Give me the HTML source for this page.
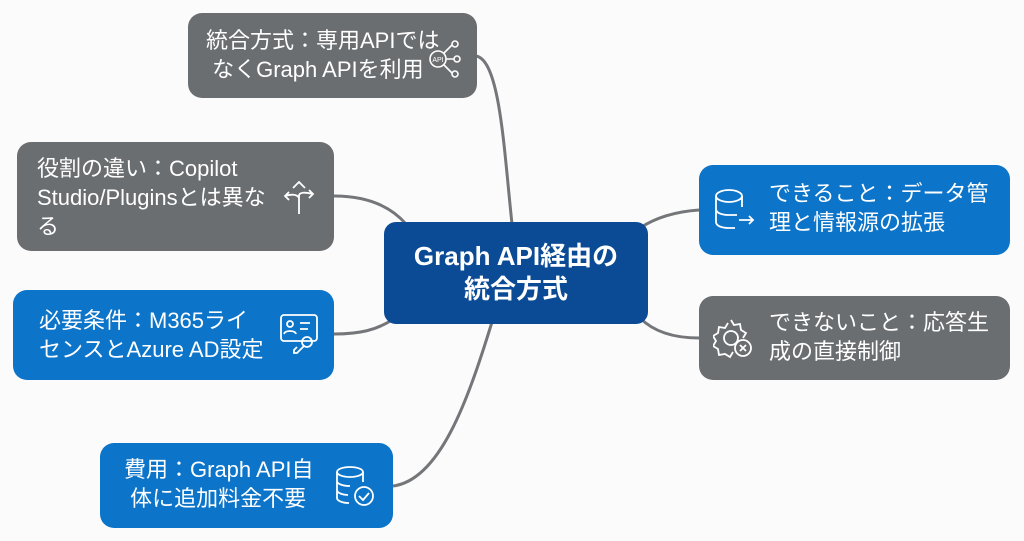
<!DOCTYPE html>
<html><head><meta charset="utf-8"><style>
body{margin:0;width:1024px;height:541px;background:#fbfbfb;position:relative;overflow:hidden;font-family:"Liberation Sans","Noto Sans CJK JP",sans-serif;}
.n{position:absolute;box-sizing:border-box;border-radius:14px;color:#fff;font-size:22px;line-height:29px;display:flex;align-items:center;}
.g{background:#6b6e71}.b{background:#0c74c9}
.t{position:absolute;white-space:nowrap}
svg{position:absolute;left:0;top:0}
</style></head><body>
<svg width="1024" height="541">
<g fill="none" stroke="#747679" stroke-width="3">
<path d="M476,56 C500,60 504,150 512,224"/>
<path d="M334,196 C370,196 392,208 406,224"/>
<path d="M334,334 C360,334 376,330 392,320"/>
<path d="M393,486 C440,480 468,400 492,322"/>
<path d="M699,210 C670,212 652,220 640,228"/>
<path d="M699,338 C670,338 652,330 640,318"/>
</g>
</svg>
<div class="n g" style="left:188px;top:13px;width:289px;height:85px;"><div class="t" style="left:18px;top:13px">統合方式：専用APIでは<br>&nbsp;なくGraph APIを利用</div>
<svg style="left:234px;top:20px" width="46" height="46" viewBox="0 0 46 46" fill="none" stroke="#fff" stroke-width="1.6"><circle cx="16" cy="26" r="8"/><text x="16" y="29" font-size="7" fill="#fff" stroke="none" text-anchor="middle" font-family="Liberation Sans">API</text><path d="M24,26h8M22,20l8,-8M22,32l8,8"/><circle cx="33" cy="11" r="3"/><circle cx="35" cy="26" r="3"/><circle cx="33" cy="41" r="3"/></svg></div>
<div class="n g" style="left:17px;top:142px;width:317px;height:109px;"><div class="t" style="left:20px;top:12px">役割の違い：Copilot<br>Studio/Pluginsとは異な<br>る</div>
<svg style="left:262px;top:36px" width="40" height="40" viewBox="0 0 40 40" fill="none" stroke="#fff" stroke-width="1.8"><path d="M20,36V18M14,10l6,-6 6,6M20,18 C20,14 26,14 34,16M30,12l4,4-4,4M20,20 C18,16 12,16 6,18M10,14l-4,4 4,4"/></svg></div>
<div class="n" style="left:384px;top:222px;width:264px;height:102px;background:#0b4b95;border-radius:12px;justify-content:center;text-align:center;font-weight:bold;font-size:26px;line-height:33px;">Graph API経由の<br>統合方式</div>
<div class="n b" style="left:13px;top:290px;width:321px;height:90px;"><div class="t" style="left:26px;top:16px">必要条件：M365ライ<br>センスとAzure AD設定</div>
<svg style="left:262px;top:20px" width="46" height="46" viewBox="0 0 46 46" fill="none" stroke="#fff" stroke-width="1.8"><rect x="6" y="5" width="36" height="26" rx="3"/><circle cx="15" cy="14" r="3"/><path d="M9,24c1-4 11-4 12,0M25,13h10M25,19h8"/><circle cx="32" cy="32" r="5"/><path d="M29,36l-7,7h-3v-3l3-3"/></svg></div>
<div class="n b" style="left:100px;top:443px;width:293px;height:85px;"><div class="t" style="left:24px;top:12px">費用：Graph API自<br>&nbsp;体に追加料金不要</div>
<svg style="left:232px;top:20px" width="48" height="46" viewBox="0 0 48 46" fill="none" stroke="#fff" stroke-width="1.8"><ellipse cx="18" cy="9" rx="13" ry="5"/><path d="M5,9v26c0,3 6,5 12,5M5,18c0,3 6,5 13,5M5,27c0,3 6,5 11,5M31,9v10"/><circle cx="32" cy="33" r="9"/><path d="M27,33l4,4 6,-7"/></svg></div>
<div class="n b" style="left:699px;top:165px;width:311px;height:90px;"><div class="t" style="left:70px;top:14px">できること：データ管<br>理と情報源の拡張</div>
<svg style="left:14px;top:22px" width="44" height="46" viewBox="0 0 44 46" fill="none" stroke="#fff" stroke-width="1.8"><ellipse cx="16" cy="9" rx="13" ry="6"/><path d="M3,9v26c0,4 6,6 13,6h6M3,22c0,4 6,6 13,6h8M29,9v11M26,33h14M36,29l4,4-4,4"/></svg></div>
<div class="n g" style="left:699px;top:296px;width:311px;height:84px;"><div class="t" style="left:70px;top:12px">できないこと：応答生<br>成の直接制御</div>
<svg style="left:14px;top:20px" width="44" height="46" viewBox="0 0 44 46" fill="none" stroke="#fff" stroke-width="1.8"><path d="M18,4l3,5 6-1 1,6 5,3-3,5M20,36l-3,5-5-3-6,1-1-6-5-3 3-5-3-5 5-3 1-6 6,1 3-5"/><circle cx="18" cy="22" r="7"/><circle cx="30" cy="32" r="8"/><path d="M27,29l6,6M33,29l-6,6"/></svg></div>
</body></html>
